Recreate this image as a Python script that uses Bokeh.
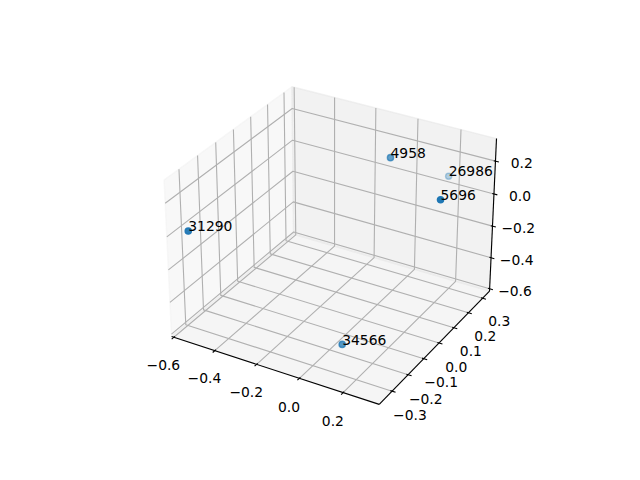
import numpy as np
from bokeh.plotting import figure
from bokeh.models import Range1d, ColumnDataSource
from bokeh.core.properties import value
from bokeh.embed import file_html
from bokeh.resources import INLINE

# ---- data ----
point_labels = ["31290", "4958", "26986", "5696", "34566"]
x_vals = [-0.549, 0.026, 0.181, 0.300, 0.060]
y_vals = [-0.332, 0.136, 0.303, 0.073, -0.201]
z_vals = [0.018, 0.275, 0.083, 0.172, -0.555]

x_ticks = [-0.6, -0.4, -0.2, 0.0, 0.2]
y_ticks = [-0.3, -0.2, -0.1, 0.0, 0.1, 0.2, 0.3]
z_ticks = [-0.6, -0.4, -0.2, 0.0, 0.2]

# ---- geometry of a default 3D axes in a 640x480 figure ----
FIG_W, FIG_H, DPI = 640, 480, 100
PT = DPI / 72.0
FS = 10 * PT                      # 10pt font in px
ax_size = 0.77 * FIG_H
ax_left = (0.125 + (0.775 - 0.77 * FIG_H / FIG_W) / 2) * FIG_W
ax_bottom = 0.11 * FIG_H
TEXT_SHIFT = 0.35 * FS            # compensate for the svg baseline placement


def box_limits(vals):
    lo, hi = min(vals), max(vals)
    r = hi - lo
    lo, hi = lo - 0.05 * r, hi + 0.05 * r
    m = (hi - lo) / 48
    return lo - m, hi + m


lims = np.array([box_limits(x_vals), box_limits(y_vals), box_limits(z_vals)])
(X0, X1), (Y0, Y1), (Z0, Z1) = lims

aspect = np.array([4.0, 4.0, 3.0])
aspect = aspect * 1.8294640721620434 * 25 / 24 / np.linalg.norm(aspect)
R = aspect / 2
el, az = np.deg2rad(30), np.deg2rad(-60)
w = np.array([np.cos(el) * np.cos(az), np.cos(el) * np.sin(az), np.sin(el)])
eye = R + 10 * w
u = np.cross([0.0, 0.0, 1.0], w)
u /= np.linalg.norm(u)
v = np.cross(w, u)


def project(x, y, z):
    a, b, c = np.broadcast_arrays(np.asarray(x, float), np.asarray(y, float), np.asarray(z, float))
    pts = np.stack([a, b, c], axis=-1)
    world = (pts - lims[:, 0]) / (lims[:, 1] - lims[:, 0]) * aspect
    d = world - eye
    zv = d @ w
    X = (d @ u) / (-zv)
    Y = (d @ v) / (-zv)
    px = ax_left + (X + 0.095) / 0.185 * ax_size
    py = FIG_H - (ax_bottom + (Y + 0.095) / 0.185 * ax_size)
    return px, py, zv


def fmt(t):
    s = f"{t:.1f}"
    if s == "-0.0":
        s = "0.0"
    return s.replace("-", "\u2212")


p = figure(width=624, height=464, x_range=Range1d(0, 624), y_range=Range1d(464, 0),
           output_backend="svg", toolbar_location=None, min_border=0,
           x_axis_type=None, y_axis_type=None)
p.outline_line_color = None
p.background_fill_color = "white"
p.border_fill_color = "white"

# ---- panes ----
panes = [
    (([X0] * 4, [Y0, Y1, Y1, Y0], [Z0, Z0, Z1, Z1]), "#f2f2f2"),
    (([X0, X1, X1, X0], [Y1] * 4, [Z0, Z0, Z1, Z1]), "#e6e6e6"),
    (([X0, X1, X1, X0], [Y0, Y0, Y1, Y1], [Z0] * 4), "#ececec"),
]
for (px_, py_, pz_), col in panes:
    sx, sy, _ = project(px_, py_, pz_)
    p.patch(list(sx), list(sy), fill_color=col, fill_alpha=0.5,
            line_color=col, line_alpha=0.5, line_width=1.0 * PT)

# ---- grid lines ----
gx, gy = [], []
for t in x_ticks:
    sx, sy, _ = project([t, t, t], [Y0, Y1, Y1], [Z0, Z0, Z1])
    gx.append(list(sx)); gy.append(list(sy))
for t in y_ticks:
    sx, sy, _ = project([X1, X0, X0], [t, t, t], [Z0, Z0, Z1])
    gx.append(list(sx)); gy.append(list(sy))
for t in z_ticks:
    sx, sy, _ = project([X0, X0, X1], [Y0, Y1, Y1], [t, t, t])
    gx.append(list(sx)); gy.append(list(sy))
p.multi_line(gx, gy, line_color="#b0b0b0", line_width=0.8 * PT)

# ---- axis lines, ticks, tick labels ----
deltas = (lims[:, 1] - lims[:, 0]) / 12 * 24 / 25
dpp = 48 / (72 * 2 * ax_size / DPI)
ld = (3.5 + 8) * dpp * deltas
dx, dy, dz = deltas
lx_, ly_, lz_ = ld

ax_x, ax_y = [], []
for xs_, ys_, zs_ in [([X0, X1], [Y0, Y0], [Z0, Z0]),
                      ([X1, X1], [Y0, Y1], [Z0, Z0]),
                      ([X1, X1], [Y1, Y1], [Z0, Z1])]:
    sx, sy, _ = project(xs_, ys_, zs_)
    ax_x.append(list(sx)); ax_y.append(list(sy))
p.multi_line(ax_x, ax_y, line_color="black", line_width=0.8 * PT)

tk_x, tk_y = [], []
lab_x, lab_y, lab_t = [], [], []
for t in x_ticks:
    sx, sy, _ = project([t, t], [Y0 + 0.1 * dy, Y0 - 0.2 * dy], [Z0, Z0])
    tk_x.append(list(sx)); tk_y.append(list(sy))
    a, b, _ = project(t, Y0 - ly_, Z0 - lz_)
    lab_x.append(float(a)); lab_y.append(float(b)); lab_t.append(fmt(t))
for t in y_ticks:
    sx, sy, _ = project([X1 - 0.1 * dx, X1 + 0.2 * dx], [t, t], [Z0, Z0])
    tk_x.append(list(sx)); tk_y.append(list(sy))
    a, b, _ = project(X1 + lx_, t, Z0 - lz_)
    lab_x.append(float(a)); lab_y.append(float(b)); lab_t.append(fmt(t))
for t in z_ticks:
    sx, sy, _ = project([X1 - 0.1 * dx, X1 + 0.2 * dx], [Y1, Y1], [t, t])
    tk_x.append(list(sx)); tk_y.append(list(sy))
    a, b, _ = project(X1 + lx_, Y1 + ly_, t)
    lab_x.append(float(a)); lab_y.append(float(b)); lab_t.append(fmt(t))
p.multi_line(tk_x, tk_y, line_color="black", line_width=0.8 * PT)

ascent = 0.7598 * FS
p.text(x=lab_x, y=[yy + ascent - TEXT_SHIFT for yy in lab_y], text=lab_t,
       text_font=value("DejaVu Sans"), text_font_size=f"{FS:.2f}px",
       text_align="center", text_baseline="alphabetic", text_color="black")

# ---- scatter with depth shading ----
sx, sy, zv = project(x_vals, y_vals, z_vals)
vz = 10.0 / zv
alpha = 1 - 0.7 * (vz - vz.min()) / (vz.max() - vz.min())
order = np.argsort(vz)[::-1]
src = ColumnDataSource(dict(x=sx[order], y=sy[order], a=alpha[order]))
p.scatter("x", "y", source=src, marker="circle", size=np.sqrt(20) * PT,
          fill_color="#1f77b4", fill_alpha="a", line_color="#1f77b4",
          line_alpha="a", line_width=1.0 * PT)

p.text(x=list(sx), y=[yy - TEXT_SHIFT for yy in sy], text=point_labels,
       text_font=value("DejaVu Sans"), text_font_size=f"{FS:.2f}px",
       text_align="left", text_baseline="alphabetic", text_color="black")

open("out.html", "w").write(file_html(p, INLINE))
